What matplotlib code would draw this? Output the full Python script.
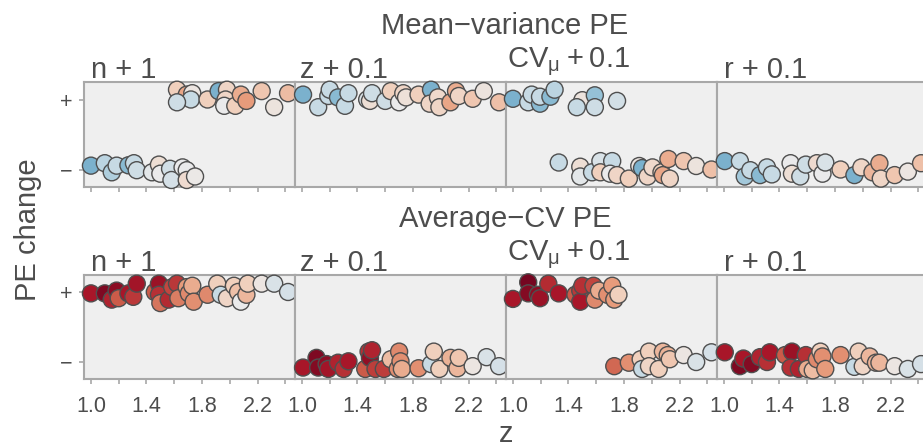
import matplotlib
matplotlib.use("Agg")
import matplotlib.pyplot as plt
import numpy as np

plt.rcParams['font.family'] = ['Liberation Sans', 'DejaVu Sans']
plt.rcParams['mathtext.fontset'] = 'custom'
plt.rcParams['mathtext.rm'] = 'Liberation Sans'
plt.rcParams['mathtext.it'] = 'Liberation Sans:italic'
plt.rcParams['mathtext.default'] = 'regular'

# ---------------- data ----------------
row_titles = ["Mean\u2212variance PE", "Average\u2212CV PE"]
panel_labels = ["n + 1", "z + 0.1", "CV$_{\\mu}$\u2009+\u20090.1", "r + 0.1"]
y_tick_labels = ["\u2212", "+"]
x_ticks = [1.0, 1.2, 1.4, 1.6, 1.8, 2.0, 2.2, 2.4]
x_tick_labels = ["1.0", "", "1.4", "", "1.8", "", "2.2", ""]

# Mean-variance PE, n + 1
mv_n_z = [1.62, 1.69, 1.73, 1.72, 1.62, 1.84, 1.92, 1.98, 1.97, 1.96, 2.04, 2.08, 2.12, 2.23, 2.32, 2.42,
          1.00, 1.10, 1.15, 1.185, 1.27, 1.31, 1.33, 1.44, 1.49, 1.50, 1.57, 1.58, 1.66, 1.69, 1.69, 1.75]
mv_n_y = [1.14, 1.07, 1.09, 1.00, 0.96, 1.00, 1.12, 1.14, 1.00, 0.91, 0.91, 1.07, 0.98, 1.12, 0.89, 1.09,
          0.055, 0.09, -0.04, 0.055, 0.06, 0.09, -0.01, -0.04, 0.07, -0.06, 0.01, -0.15, 0.03, -0.01, -0.15, -0.10]
mv_n_c = [0.40, 0.32, 0.48, 0.60, 0.58, 0.40, 0.72, 0.42, 0.42, 0.50, 0.40, 0.33, 0.30, 0.38, 0.47, 0.36,
          0.72, 0.62, 0.64, 0.60, 0.70, 0.60, 0.58, 0.52, 0.45, 0.50, 0.57, 0.56, 0.50, 0.50, 0.44, 0.49]

# Mean-variance PE, z + 0.1
mv_z_z = [1.008, 1.117, 1.19, 1.20, 1.26, 1.31, 1.335, 1.47, 1.49, 1.505, 1.60, 1.64, 1.70, 1.73, 1.75,
          1.84, 1.93, 1.92, 1.98, 1.99, 2.07, 2.11, 2.13, 2.23, 2.31, 2.42]
mv_z_y = [1.07, 0.89, 1.05, 1.14, 1.03, 0.91, 1.09, 1.00, 0.98, 1.09, 0.98, 1.12, 0.96, 1.09, 1.03,
          1.07, 1.14, 0.94, 1.03, 0.89, 0.96, 1.12, 1.05, 1.01, 1.12, 0.96]
mv_z_c = [0.72, 0.60, 0.60, 0.60, 0.70, 0.60, 0.60, 0.55, 0.45, 0.58, 0.58, 0.40, 0.50, 0.42, 0.46,
          0.40, 0.72, 0.42, 0.43, 0.42, 0.32, 0.33, 0.42, 0.38, 0.47, 0.37]

# Mean-variance PE, CV + 0.1
mv_cv_z = [1.00, 1.11, 1.135, 1.195, 1.195, 1.27, 1.30, 1.50, 1.46, 1.59, 1.59, 1.75,
           1.33, 1.485, 1.485, 1.57, 1.63, 1.63, 1.715, 1.70, 1.75, 1.835, 1.91, 1.93, 1.97, 2.005,
           2.07, 2.08, 2.13, 2.12, 2.23, 2.32, 2.43]
mv_cv_y = [1.01, 0.96, 1.07, 0.94, 1.04, 1.04, 1.14, 0.99, 0.89, 1.06, 0.89, 0.98,
           0.10, 0.04, -0.10, -0.04, 0.12, -0.04, 0.12, -0.06, -0.08, -0.13, 0.05, 0.02, -0.10, 0.03,
           -0.04, -0.08, -0.13, 0.15, 0.12, 0.05, 0.00]
mv_cv_c = [0.72, 0.60, 0.60, 0.70, 0.60, 0.70, 0.62, 0.47, 0.60, 0.68, 0.58, 0.57,
           0.60, 0.45, 0.52, 0.60, 0.55, 0.40, 0.60, 0.50, 0.42, 0.40, 0.48, 0.72, 0.42, 0.43,
           0.40, 0.32, 0.42, 0.33, 0.38, 0.47, 0.37]

# Mean-variance PE, r + 0.1
mv_r_z = [1.006, 1.115, 1.15, 1.19, 1.26, 1.31, 1.345, 1.48, 1.49, 1.55, 1.59, 1.67, 1.71, 1.73,
          1.84, 1.94, 1.99, 2.07, 2.12, 2.13, 2.23, 2.325, 2.42]
mv_r_y = [0.12, 0.12, -0.10, -0.01, -0.08, 0.03, -0.07, 0.09, -0.06, -0.10, 0.07, 0.09, -0.06, 0.10,
          0.00, -0.08, 0.03, -0.04, 0.09, -0.13, -0.08, -0.03, 0.09]
mv_r_c = [0.72, 0.60, 0.66, 0.60, 0.70, 0.60, 0.60, 0.50, 0.45, 0.58, 0.58, 0.44, 0.50, 0.55,
          0.40, 0.72, 0.42, 0.35, 0.33, 0.42, 0.38, 0.48, 0.37]

# Average-CV PE, n + 1
ac_n_z = [1.00, 1.10, 1.15, 1.185, 1.20, 1.27, 1.305, 1.33, 1.46, 1.49, 1.49, 1.50, 1.56, 1.585, 1.62,
          1.63, 1.69, 1.705, 1.73, 1.74, 1.84, 1.91, 1.935, 1.98, 2.03, 2.06, 2.08, 2.12, 2.13, 2.23,
          2.32, 2.42]
ac_n_y = [0.985, 0.985, 0.895, 1.025, 0.915, 0.985, 0.935, 1.125, 1.005, 1.125, 0.965, 0.845, 0.895,
          1.075, 1.125, 0.915, 1.075, 0.985, 1.095, 0.865, 0.965, 1.125, 0.965, 0.915, 1.095, 1.005,
          0.865, 0.965, 1.125, 1.125, 1.125, 1.005]
ac_n_c = [0.10, 0.04, 0.12, 0.06, 0.20, 0.10, 0.15, 0.09, 0.20, 0.08, 0.14, 0.24, 0.13, 0.17, 0.15,
          0.25, 0.30, 0.27, 0.33, 0.28, 0.27, 0.40, 0.60, 0.42, 0.40, 0.37, 0.50, 0.35, 0.40, 0.48,
          0.55, 0.56]

# Average-CV PE, z + 0.1
ac_z_z = [1.008, 1.105, 1.117, 1.178, 1.19, 1.26, 1.30, 1.335, 1.456, 1.48, 1.49, 1.505, 1.53, 1.59,
          1.64, 1.69, 1.70, 1.71, 1.72, 1.84, 1.93, 1.95, 1.99, 2.07, 2.12, 2.13, 2.23, 2.33, 2.42]
ac_z_y = [-0.085, 0.055, -0.085, -0.035, -0.105, -0.015, -0.105, 0.005, -0.105, 0.145, 0.055, 0.165,
          -0.105, -0.105, 0.035, -0.105, 0.145, 0.005, -0.105, -0.095, -0.035, 0.145, -0.105, 0.055,
          -0.095, 0.055, -0.065, 0.065, -0.065]
ac_z_c = [0.10, 0.04, 0.05, 0.06, 0.09, 0.12, 0.14, 0.10, 0.20, 0.14, 0.07, 0.12, 0.16, 0.16,
          0.36, 0.28, 0.27, 0.28, 0.33, 0.28, 0.60, 0.40, 0.40, 0.34, 0.35, 0.38, 0.48, 0.55, 0.56]

# Average-CV PE, CV + 0.1
ac_cv_z = [1.00, 1.11, 1.11, 1.18, 1.195, 1.255, 1.33, 1.45, 1.485, 1.485, 1.50, 1.58, 1.59, 1.62,
           1.68, 1.715, 1.73, 1.76,
           1.73, 1.835, 1.92, 1.93, 1.98, 1.98, 2.05, 2.08, 2.115, 2.13, 2.23, 2.32, 2.43]
ac_cv_y = [0.905, 1.145, 0.985, 0.965, 0.915, 1.125, 0.985, 0.965, 1.025, 0.865, 1.095, 1.095, 0.895,
           1.025, 0.965, 1.095, 0.895, 0.965,
           -0.065, -0.015, 0.035, -0.105, 0.145, -0.065, -0.105, 0.145, 0.095, 0.035, 0.095, -0.005, 0.135]
ac_cv_c = [0.10, 0.03, 0.05, 0.06, 0.08, 0.13, 0.10, 0.20, 0.15, 0.10, 0.14, 0.17, 0.27, 0.33,
           0.28, 0.30, 0.30, 0.40,
           0.22, 0.28, 0.40, 0.60, 0.40, 0.42, 0.40, 0.35, 0.34, 0.38, 0.48, 0.55, 0.56]

# Average-CV PE, r + 0.1
ac_r_z = [1.006, 1.115, 1.14, 1.20, 1.26, 1.31, 1.33, 1.44, 1.49, 1.48, 1.54, 1.59, 1.60, 1.64, 1.67,
          1.695, 1.71, 1.73, 1.84, 1.94, 1.97, 2.00, 2.05, 2.095, 2.12, 2.23, 2.325, 2.42]
ac_r_y = [0.135, -0.065, 0.045, -0.035, 0.065, -0.005, 0.135, 0.095, 0.145, -0.085, -0.105, 0.095,
          -0.105, -0.125, 0.035, 0.145, 0.075, -0.105, 0.095, -0.075, 0.145, -0.065, 0.075, -0.015,
          -0.015, -0.065, -0.105, -0.035]
ac_r_c = [0.10, 0.04, 0.10, 0.05, 0.12, 0.14, 0.10, 0.20, 0.08, 0.14, 0.12, 0.14, 0.33, 0.36, 0.27,
          0.40, 0.28, 0.30, 0.28, 0.60, 0.40, 0.42, 0.35, 0.34, 0.35, 0.48, 0.55, 0.56]

panels = [
    [(mv_n_z, mv_n_y, mv_n_c), (mv_z_z, mv_z_y, mv_z_c), (mv_cv_z, mv_cv_y, mv_cv_c), (mv_r_z, mv_r_y, mv_r_c)],
    [(ac_n_z, ac_n_y, ac_n_c), (ac_z_z, ac_z_y, ac_z_c), (ac_cv_z, ac_cv_y, ac_cv_c), (ac_r_z, ac_r_y, ac_r_c)],
]

# ---------------- layout ----------------
W, H = 923, 447
fig = plt.figure(figsize=(W / 100, H / 100), dpi=100)

TEXT = '#4D4D4D'
BORDER = '#A8A8A8'
BG = '#EFEFEF'
cmap = plt.cm.RdBu


def shade_color(v):
    r, g, b, a = cmap(v)
    k = 0.95
    return (r * k, g * k, b * k, 1.0)


col_left = [84, 295, 506, 717]
col_w = 211
rows_px = [(82, 187), (275, 379)]
title_base = [34, 227]
label_base = [78, 271]
cv_base = [67, 260]
label_x = [91, 300, 507, 724]


def fx(px):
    return px / W


def fy(py):
    return 1 - py / H


for r in range(2):
    top, bot = rows_px[r]
    for c in range(4):
        ax = fig.add_axes([fx(col_left[c]), fy(bot), col_w / W, (bot - top) / H])
        ax.set_facecolor(BG)
        zs, ys, cs = panels[r][c]
        ax.scatter(zs, ys, s=150, c=[shade_color(v) for v in cs], edgecolors='#4F4F4F',
                   linewidths=1.0, clip_on=False, zorder=3)
        ax.set_xlim(0.95, 2.47)
        ax.set_ylim(-0.25, 1.25)
        for sp in ax.spines.values():
            sp.set_color(BORDER)
            sp.set_linewidth(1.5)
        ax.set_xticks(x_ticks)
        if r == 1:
            ax.set_xticklabels(x_tick_labels)
        else:
            ax.set_xticklabels([])
        ax.set_yticks([0, 1])
        if c == 0:
            ax.set_yticklabels(y_tick_labels)
            ax.tick_params(axis='y', length=3.5, width=1.2, color=BORDER,
                           labelsize=15.5, labelcolor=TEXT, pad=5)
        else:
            ax.tick_params(axis='y', left=False, labelleft=False)
        ax.tick_params(axis='x', length=3.5, width=1.2, color=BORDER,
                       labelsize=15.5, labelcolor=TEXT, pad=9)
        base = cv_base[r] if c == 2 else label_base[r]
        fig.text(fx(label_x[c]), fy(base), panel_labels[c], fontsize=21,
                 color=TEXT, ha='left', va='baseline')
    fig.text(fx(505), fy(title_base[r]), row_titles[r], fontsize=21,
             color=TEXT, ha='center', va='baseline')

fig.text(fx(28), fy(230), "PE change", fontsize=21, color=TEXT, rotation=90,
         ha='center', va='center')
fig.text(fx(506), fy(442), "z", fontsize=21, color=TEXT, ha='center', va='baseline')

fig.savefig("out.png", dpi=100)
